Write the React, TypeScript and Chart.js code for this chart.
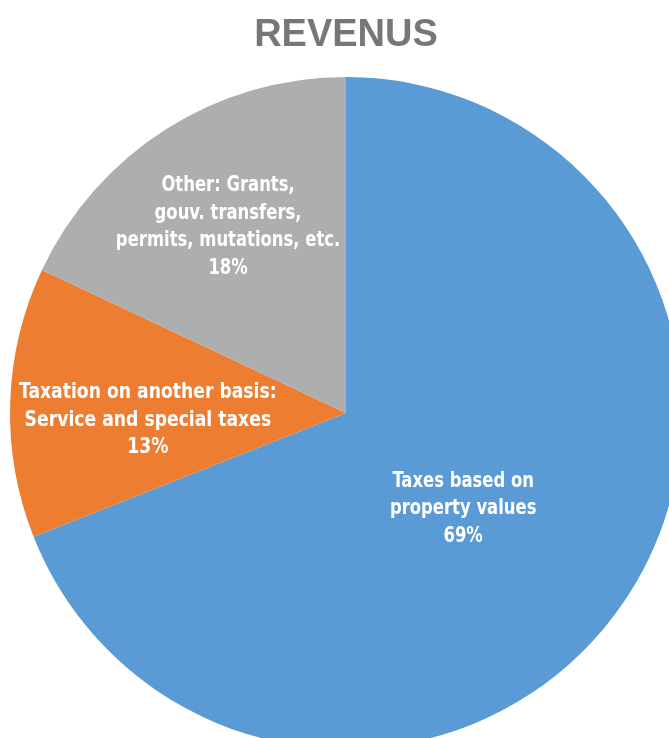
import React, { useEffect, useRef } from "react";
import { Chart, registerables } from "chart.js";

Chart.register(...registerables);

const TITLE = "REVENUS";
const categories = [
  ["Taxes based on", "property values"],
  ["Taxation on another basis:", "Service and special taxes"],
  ["Other: Grants,", "gouv. transfers,", "permits, mutations, etc."],
];
const values = [69, 13, 18];
const colors = ["#5B9BD5", "#ED7D31", "#ADAEB0"];

// label placement styling (fraction of radius, angle tweak in degrees, font size)
const labelRadius = [0.45, 0.59, 0.655];
const labelAngleShift = [5, -3.8, 0];
const labelFontSize = [21, 22, 21];

const LABEL_FONT = '"Liberation Sans Narrow", "DejaVu Sans Condensed", "Arial Narrow", sans-serif';
const SQUEEZE = 0.87;

const labelPlugin = {
  id: "sliceLabels",
  afterDatasetsDraw(chart: any) {
    const ctx = chart.ctx;
    const meta = chart.getDatasetMeta(0);
    const total = values.reduce((a, b) => a + b, 0);
    meta.data.forEach((arc: any, i: number) => {
      const p = arc.getProps(["x", "y", "startAngle", "endAngle", "outerRadius"], true);
      const mid = (p.startAngle + p.endAngle) / 2 + (labelAngleShift[i] * Math.PI) / 180;
      const r = p.outerRadius * labelRadius[i];
      const cx = p.x + Math.cos(mid) * r;
      const cy = p.y + Math.sin(mid) * r;
      const lines = [...categories[i], `${Math.round((values[i] / total) * 100)}%`];
      const lh = 27.5;
      const top = cy - ((lines.length - 1) * lh) / 2;
      ctx.save();
      ctx.translate(cx, top);
      ctx.scale(SQUEEZE, 1);
      ctx.fillStyle = "#FFFFFF";
      ctx.font = `bold ${labelFontSize[i]}px ${LABEL_FONT}`;
      ctx.textAlign = "center";
      ctx.textBaseline = "middle";
      lines.forEach((ln, j) => ctx.fillText(ln, 0, j * lh));
      ctx.restore();
    });
  },
};

export default function App() {
  const ref = useRef<HTMLCanvasElement>(null);
  useEffect(() => {
    if (!ref.current) return;
    const chart = new Chart(ref.current, {
      type: "pie",
      data: {
        labels: categories.map((c) => c.join(" ")),
        datasets: [
          {
            data: values,
            backgroundColor: colors,
            borderWidth: 0,
            hoverOffset: 0,
            offset: 0,
          },
        ],
      },
      options: {
        animation: false,
        responsive: false,
        devicePixelRatio: 1,
        layout: { padding: { left: 10, right: 10, top: 0, bottom: 77 } },
        plugins: {
          legend: { display: false },
          tooltip: { enabled: false },
          title: {
            display: true,
            text: TITLE,
            color: "#76777A",
            font: { family: '"Liberation Sans", Arial, sans-serif', size: 38, weight: "bold", lineHeight: 1.2 },
            padding: { top: 13, bottom: 18.4 },
          },
        },
      },
      plugins: [labelPlugin],
    });
    return () => chart.destroy();
  }, []);
  return (
    <div style={{ position: "absolute", left: 0, top: 0, width: 669, height: 738, overflow: "hidden", background: "#fff" }}>
      <canvas ref={ref} width={692} height={826} style={{ display: "block", width: 692, height: 826 }} />
    </div>
  );
}
